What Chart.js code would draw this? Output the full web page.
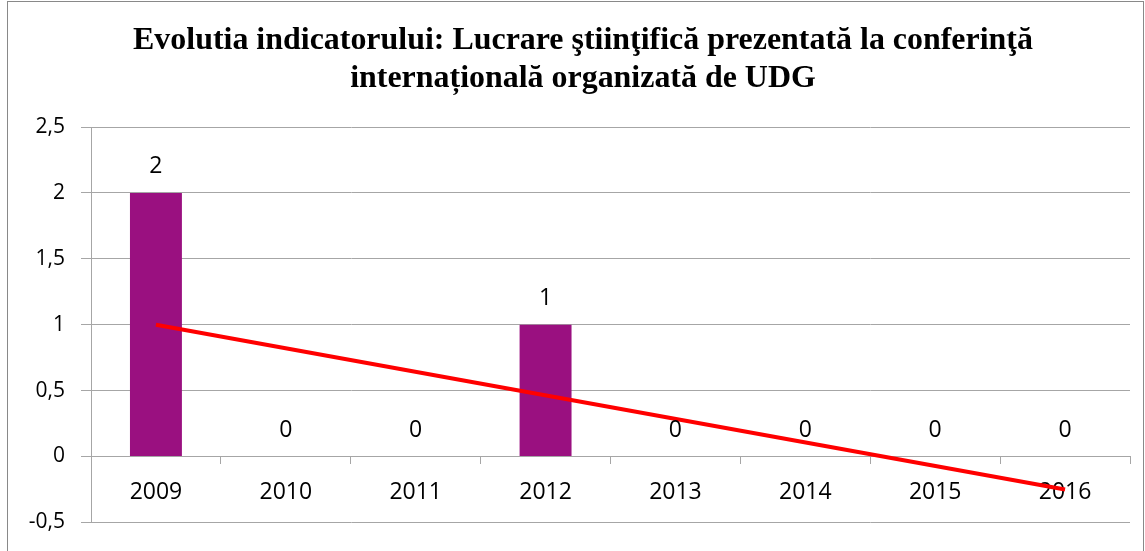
<!DOCTYPE html>
<html><head><meta charset="utf-8">
<script src="https://cdn.jsdelivr.net/npm/chart.js"></script>
<style>
html,body{margin:0;padding:0;background:#fff;overflow:hidden}
#frame{position:absolute;left:7px;top:1px;width:1137px;height:600px;border:1px solid #898989;box-sizing:border-box}
#wrap{position:absolute;left:0;top:0;width:1145px;height:551px}
</style></head><body>
<div id="frame"></div>
<div id="wrap"><canvas id="c" width="1145" height="551"></canvas></div>
<script>
const categories = ['2009','2010','2011','2012','2013','2014','2015','2016'];
const values = [2, 0, 0, 1, 0, 0, 0, 0];
const trendValues = [1, null, null, null, null, null, null, -0.25];
const yTicks = [-0.5, 0, 0.5, 1, 1.5, 2, 2.5];
const titleLines = ['Evolutia indicatorului: Lucrare ştiinţifică prezentată la conferinţă', 'internațională organizată de UDG'];

const GRID = '#a6a6a6';
const FONT = '"Open Sans", "Noto Sans", sans-serif';

const titlePlugin = {
  id: 'customTitle',
  afterDraw(chart) {
    const ctx = chart.ctx;
    ctx.save();
    ctx.font = 'bold 31px "Liberation Serif", "Times New Roman", serif';
    ctx.fillStyle = '#000';
    ctx.textAlign = 'center';
    ctx.textBaseline = 'alphabetic';
    const baselines = [49, 87];
    titleLines.forEach((t, i) => {
      ctx.save();
      ctx.translate(583, baselines[i]);
      ctx.scale(1.03, 1);
      ctx.fillText(t, 0, 0);
      ctx.restore();
    });
    ctx.restore();
  }
};

const dataLabelPlugin = {
  id: 'dataLabels',
  afterDatasetsDraw(chart) {
    const idx = chart.data.datasets.findIndex(d => d.type === 'bar');
    const meta = chart.getDatasetMeta(idx);
    const ctx = chart.ctx;
    ctx.save();
    ctx.font = '23px ' + FONT;
    ctx.fillStyle = '#000';
    ctx.textAlign = 'center';
    ctx.textBaseline = 'middle';
    meta.data.forEach((el, i) => {
      const top = Math.min(el.y, el.base);
      ctx.fillText(String(values[i]), el.x, top - 26);
    });
    ctx.restore();
  }
};

new Chart(document.getElementById('c'), {
  data: {
    labels: categories,
    datasets: [
      {
        type: 'line',
        data: trendValues,
        spanGaps: true,
        borderColor: '#ff0000',
        borderWidth: 4,
        pointRadius: 0,
        tension: 0,
        order: 0
      },
      {
        type: 'bar',
        data: values,
        backgroundColor: '#9a1080',
        barPercentage: 0.4,
        categoryPercentage: 1,
        order: 1
      }
    ]
  },
  options: {
    responsive: false,
    animation: false,
    devicePixelRatio: 1,
    layout: { padding: { left: 0, right: 15, top: 127, bottom: 28 } },
    plugins: {
      legend: { display: false },
      tooltip: { enabled: false },
      title: { display: false }
    },
    scales: {
      x: {
        type: 'category',
        position: { y: 0 },
        offset: true,
        grid: { offset: true, drawOnChartArea: false, drawTicks: true, tickLength: 7, color: GRID },
        border: { display: true, color: GRID, width: 1 },
        ticks: { color: '#000', font: { family: FONT, size: 23 }, padding: 15, maxRotation: 0 },
        afterFit(s) { s.height = 0; }
      },
      y: {
        min: -0.5,
        max: 2.5,
        afterBuildTicks(s) { s.ticks = yTicks.map(v => ({ value: v })); },
        grid: { color: GRID, tickLength: 10, drawTicks: true },
        border: { display: true, color: GRID },
        ticks: {
          color: '#000',
          font: { family: FONT, size: 21 },
          padding: 16,
          callback: v => String(v).replace('.', ',')
        },
        afterFit(s) { s.width = 91; }
      }
    }
  },
  plugins: [dataLabelPlugin, titlePlugin]
});
</script>
</body></html>
